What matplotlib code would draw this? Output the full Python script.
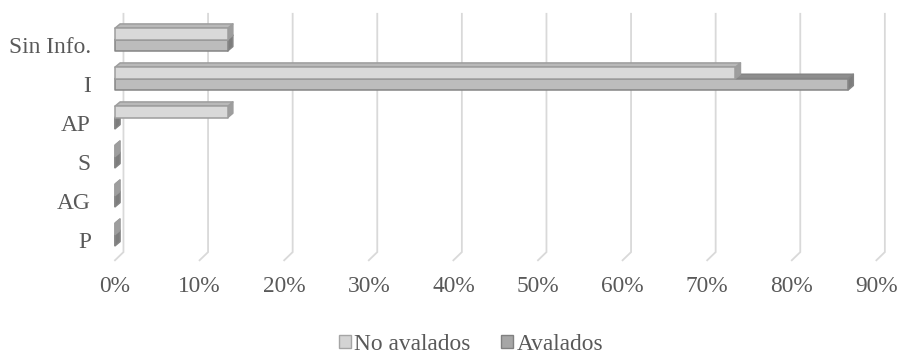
import matplotlib.pyplot as plt
from matplotlib.patches import Polygon, Patch

plt.rcParams['font.family'] = ['Liberation Serif', 'DejaVu Serif']

categories = ['P', 'AG', 'S', 'AP', 'I', 'Sin Info.']
no_avalados = [0, 0, 0, 13.33, 73.33, 13.33]
avalados = [0, 0, 0, 0, 86.67, 13.33]
ticks = [0, 10, 20, 30, 40, 50, 60, 70, 80, 90]

txt = '#595959'
W, H = 899, 353

fig = plt.figure(figsize=(W / 100, H / 100), dpi=100)
# axes box in pixels, x: 0% at px 115, 8.46 px per %, y: P at px 240, 39 px per category
sx = 8.46
left, right, top, bottom = 100, 894, 5, 268
ax = fig.add_axes([left / W, 1 - bottom / H, (right - left) / W, (bottom - top) / H])
ax.set_xlim((left - 115) / sx, (right - 115) / sx)
ax.set_ylim((240 - bottom) / 39, (240 - top) / 39)
for s in ax.spines.values():
    s.set_visible(False)

ax.set_xticks(ticks)
ax.set_xticklabels([f'{t}%' for t in ticks])
ax.set_yticks(range(len(categories)))
ax.set_yticklabels(categories)
ax.tick_params(length=0, labelsize=16.8, labelcolor=txt)
ax.tick_params(axis='x', pad=6)
ax.tick_params(axis='y', pad=6.5)

# back wall gridlines with a short floor segment
gx = 1.0
for t in ticks:
    ax.plot([t, t + gx, t + gx], [-0.52, -0.31, 5.8], color='#d9d9d9',
            lw=1.3, zorder=1, solid_joinstyle='miter')

dx, dy = 0.6, 0.11
off, h = 0.14, 0.29


def bar3d(y0, w, front, topc, side, edge):
    pts = [
        ([(w, y0), (w + dx, y0 + dy), (w + dx, y0 + h + dy), (w, y0 + h)], side),
        ([(0, y0 + h), (w, y0 + h), (w + dx, y0 + h + dy), (dx, y0 + h + dy)], topc),
        ([(0, y0), (w, y0), (w, y0 + h), (0, y0 + h)], front),
    ]
    for p, c in pts:
        ax.add_patch(Polygon(p, closed=True, facecolor=c, edgecolor=edge,
                             lw=1.1, zorder=3, joinstyle='round'))


for i in range(len(categories)):
    c = i + off
    bar3d(c - h, avalados[i], '#bcbcbc', '#8e8e8e', '#7d7d7d', '#858585')
    bar3d(c, no_avalados[i], '#d9d9d9', '#b9b9b9', '#9e9e9e', '#9d9d9d')

handles = [Patch(facecolor='#d4d4d4', edgecolor='#a5a5a5', label='No avalados'),
           Patch(facecolor='#a6a6a6', edgecolor='#808080', label='Avalados')]
fig.legend(handles=handles, loc='center', bbox_to_anchor=(0.524, 1 - 344 / H),
           ncol=2, frameon=False, fontsize=16.8, labelcolor=txt,
           handlelength=0.5, handleheight=0.5, handletextpad=0.15,
           columnspacing=1.3, borderpad=0)

fig.savefig('out.png', dpi=100)
